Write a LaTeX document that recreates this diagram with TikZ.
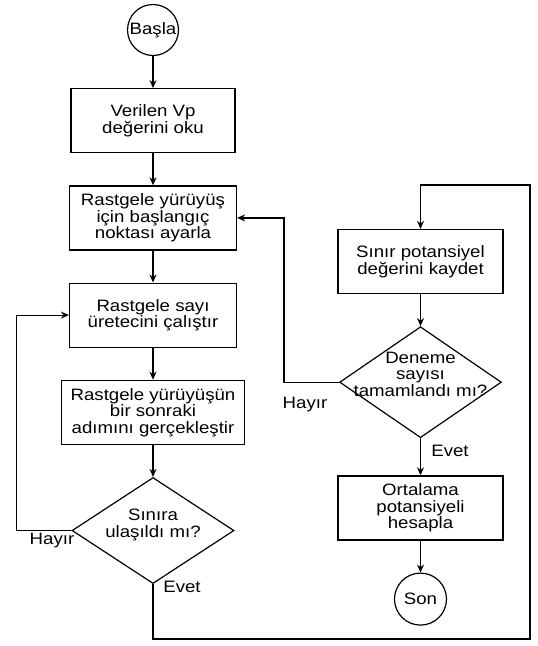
\documentclass[tikz,border=0pt]{standalone}
\usepackage{fontspec}
\setmainfont{Liberation Sans}[FakeStretch=1.13]
\usetikzlibrary{shapes.geometric, positioning, arrows.meta}

\begin{document}
\begin{tikzpicture}[x=1pt, y=-1pt, node distance=32pt,
  every node/.style={font=\fontsize{16.5}{16.5}\selectfont, align=center},
  box/.style={draw, line width=1.2pt, minimum height=64pt, inner sep=2pt},
  decision/.style={draw, line width=1.2pt, diamond, aspect=1.5, inner sep=0pt},
  terminal/.style={draw, line width=1.2pt, circle, minimum size=51pt, inner sep=0pt},
  flow/.style={-{Stealth[length=8pt, width=7pt]}, line width=1.2pt},
  answer/.style={inner sep=0pt}]
  \useasboundingbox (0,0) rectangle (538,646);
  % left column: one walk
  \node[terminal] (start) at (153,30) {Başla};
  \node[box, minimum width=164pt] (read) [below=of start] {Verilen Vp\\değerini oku};
  \node[box, minimum width=167pt] (init) [below=of read] {Rastgele yürüyüş\\için başlangıç\\noktası ayarla};
  \node[box, minimum width=167pt] (rng) [below=of init] {Rastgele sayı\\üretecini çalıştır};
  \node[box, minimum width=183pt] (walk) [below=of rng] {Rastgele yürüyüşün\\bir sonraki\\adımını gerçekleştir};
  \node[decision, minimum width=162pt, minimum height=100pt] (bound) [below=of walk] {Sınıra\\ulaşıldı mı?\\[-2pt]\mbox{}};
  % right column: trials and result
  \node[box, minimum width=165pt] (save) at (420.5,261.5) {Sınır potansiyel\\değerini kaydet};
  \node[decision, minimum width=161pt, minimum height=111pt] (trials) [below=of save] {Deneme\\sayısı\\\makebox[0pt]{tamamlandı mı?}\\\mbox{}};
  \node[box, minimum width=165pt] (mean) [below=37pt of trials] {Ortalama\\potansiyeli\\hesapla};
  \node[terminal, minimum size=52pt] (stop) [below=of mean] {Son};
  \coordinate (corner) at (530,639);
  \coordinate (turn) at (530,185);
  % answers
  \node[answer] (no1) at (52,541) {Hayır};
  \node[answer] (yes1) at (182,587) {Evet};
  \node[answer] (no2) at (305,405) {Hayır};
  \node[answer] (yes2) at (450,451) {Evet};
  % connectors
  \draw[flow] (start) -- (read);
  \draw[flow] (read) -- (init);
  \draw[flow] (init) -- (rng);
  \draw[flow] (rng) -- (walk);
  \draw[flow] (walk) -- (bound);
  \draw[flow] (bound.west) -- ++(-55,0) |- (rng.west);
  \draw[flow] (bound.south) |- (corner) -- (turn) -| (save.north);
  \draw[flow] (save) -- (trials);
  \draw[flow] (trials.west) -- ++(-55,0) |- (init.east);
  \draw[flow] (trials) -- (mean);
  \draw[flow] (mean) -- (stop);
\end{tikzpicture}
\end{document}
